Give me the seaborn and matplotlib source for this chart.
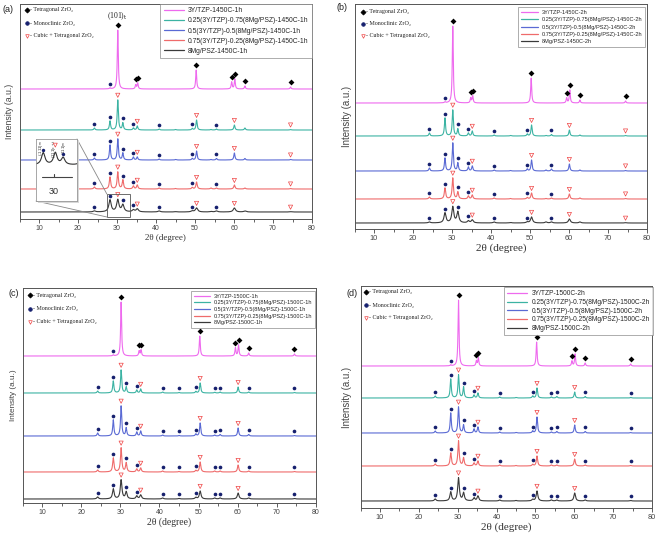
import numpy as np
import pandas as pd
import seaborn as sns
import matplotlib
matplotlib.use("Agg")
import matplotlib.pyplot as plt
from matplotlib.lines import Line2D
from matplotlib.patches import Rectangle, ConnectionPatch

# ---------------- data (peak tables) ----------------
TZP_POS = [28.2, 30.2, 34.8, 35.3, 50.3, 59.4, 60.2, 62.8, 74.5]
MIX_POS = [24.2, 28.2, 30.2, 31.5, 34.2, 35.2, 40.8, 45.0, 49.3, 50.4, 54.1, 55.5, 60.1, 62.8, 74.5]

# panel (a) 1450C-1h
A_TZP = [1, 59, 4, 6, 19, 7, 10, 3, 2]
A_025 = [2, 9, 30, 7, 2, 4, 1, 0.5, 1.5, 10, 0.5, 1, 5, 2, 0.5]
A_050 = [2, 15, 21, 7, 3, 3, 1, 0.5, 1.5, 9, 0.5, 1.5, 7, 1.5, 0.5]
A_075 = [2, 12, 17, 9, 3, 4, 1, 0.5, 1.5, 7, 1, 1, 4, 1, 0.5]
A_8MG = [1, 12, 12, 7, 2, 3, 1, 0.3, 1, 4, 0.5, 1, 4, 1, 0.3]
# panel (b) 1450C-2h
B_TZP = [1, 77, 5, 7, 25, 5, 13, 3, 2]
B_025 = [3, 18, 26, 7, 3, 5, 1, 0.5, 2, 11, 0.5, 1.5, 6, 1, 0.5]
B_050 = [3, 13, 28, 8, 4, 5, 1, 0.5, 2, 11, 1, 2, 7, 1, 0.5]
B_075 = [2, 11, 21, 7, 3, 4, 1, 0.5, 1.5, 6, 0.5, 1, 5, 1, 0.5]
B_8MG = [1, 10, 16, 11, 2, 3, 1, 0.5, 1, 6, 1, 1, 4, 1, 0.3]
# panel (c) 1500C-1h
C_TZP = [1, 54, 5, 6, 20, 8, 11, 3, 2]
C_025 = [2, 12, 23, 6, 3, 4, 1, 0.5, 1.5, 10, 0.7, 1, 6, 1, 0.5]
C_050 = [3, 16, 30, 8, 4, 5, 1, 0.5, 2, 13, 1, 1.5, 8, 1.5, 0.5]
C_075 = [2, 14, 24, 9, 3, 4, 1, 0.5, 1.5, 10, 1, 1, 7, 1, 0.5]
C_8MG = [2, 10, 19, 7, 3, 4, 1, 0.5, 1.5, 8, 1, 1, 6, 1, 0.5]
# panel (d) 1500C-2h
D_TZP = [1, 66, 5, 8, 24, 5, 12, 3, 2]
D_025 = [2, 19, 23, 11, 3, 5, 1, 0.5, 2, 10, 1, 1.5, 6, 1.5, 0.5]
D_050 = [2, 20, 26, 8, 4, 6, 1, 0.5, 2, 16, 1, 1.5, 8, 1.5, 0.5]
D_075 = [2, 13, 25, 8, 3, 5, 1, 0.5, 1.5, 10, 1, 1, 7, 1, 0.5]
D_8MG = [2, 9, 23, 8, 3, 5, 1, 0.5, 1.5, 10, 1, 1, 8, 1, 0.5]

# vertical offsets of the stacked patterns (a.u.)
A_OFF = [130, 89, 59, 30, 7]
B_OFF = [126, 93, 58, 30, 6]
C_OFF = [147, 110, 67, 31, 4]
D_OFF = [142, 110, 75, 42, 7]
A_YMAX, B_YMAX, C_YMAX, D_YMAX = 215, 225, 215, 222

COMPOSITIONS = ["3Y/TZP", "0.25(3Y/TZP)-0.75(8Mg/PSZ)", "0.5(3Y/TZP)-0.5(8Mg/PSZ)",
                "0.75(3Y/TZP)-0.25(8Mg/PSZ)", "8Mg/PSZ"]
CONDITIONS = ["1450C-1h", "1450C-2h", "1500C-1h", "1500C-2h"]

# phase markers
TZP_TET = [30.2, 34.8, 35.3, 50.3, 59.4, 60.2, 62.8, 74.5]
TZP_MONO = [28.2]
AB_MONO = [24.2, 28.2, 31.5, 34.2, 40.8, 49.3, 55.5]
AB_CT = [30.2, 35.2, 50.4, 60.1, 74.5]
C_MONO = [24.2, 28.2, 31.5, 34.2, 40.8, 45.0, 49.3, 54.1, 55.5, 62.8, 74.5]
D_MONO = [24.2, 28.2, 31.5, 34.2, 40.8, 49.3, 54.1, 55.5, 62.8, 74.5]
CD_CT = [30.2, 35.2, 50.4, 60.1]

COLORS = ["#ee6aee", "#3cb3a3", "#5a6ad4", "#ef6b6b", "#3a3a3a"]

# ---------------- style ----------------
sns.set_theme(style="ticks")
plt.rcParams["font.family"] = ["Liberation Sans", "DejaVu Sans"]
SERIF = ["Liberation Serif", "DejaVu Serif"]

W, H = 656, 540
fig = plt.figure(figsize=(W / 100, H / 100), dpi=100)
fig.patch.set_facecolor("white")

x = np.linspace(5, 80, 4000)


def profile(xx, pos, hts, w):
    xx = np.asarray(xx, dtype=float)[..., None]
    p = np.asarray(pos)
    h = np.asarray(hts)
    return (h / (1 + ((xx - p) / (w / 2)) ** 2)).sum(axis=-1)


def rect(l, r, t, b):
    return [l / W, 1 - b / H, (r - l) / W, (b - t) / H]


panels = [
    dict(tag="(a)", box=rect(19.5, 312, 4, 219), ymax=A_YMAX, off=A_OFF,
         hts=[A_TZP, A_025, A_050, A_075, A_8MG], mono=AB_MONO, ct=AB_CT,
         leg=(312, 4, 4.9, 0.45), phase=(27, 10, 13), tagpos=(8, 9), ylpad=4,
         xl=6.5, yl=6.3, tl=5.0, fw=[0.3, 0.35, 0.35, 0.4, 0.7]),
    dict(tag="(b)", box=rect(354.5, 647, 4, 229), ymax=B_YMAX, off=B_OFF,
         hts=[B_TZP, B_025, B_050, B_075, B_8MG], mono=AB_MONO, ct=AB_CT,
         leg=(645, 7, 4.1, 0.42), phase=(363, 12, 12), tagpos=(342, 7), ylpad=2,
         xl=8, yl=6.9, tl=5.3, fw=[0.3, 0.35, 0.35, 0.4, 0.6]),
    dict(tag="(c)", box=rect(22.5, 316, 288, 503), ymax=C_YMAX, off=C_OFF,
         hts=[C_TZP, C_025, C_050, C_075, C_8MG], mono=C_MONO, ct=CD_CT,
         leg=(315, 291, 4.0, 0.3), phase=(30, 295, 13.5), tagpos=(14, 294), ylpad=4,
         xl=7, yl=5.9, tl=5.0, fw=[0.3, 0.35, 0.35, 0.4, 0.5]),
    dict(tag="(d)", box=rect(360.6, 652, 286, 508), ymax=D_YMAX, off=D_OFF,
         hts=[D_TZP, D_025, D_050, D_075, D_8MG], mono=D_MONO, ct=CD_CT,
         leg=(653, 287, 4.8, 0.25), phase=(366, 292, 13), tagpos=(352, 294), ylpad=6,
         xl=8, yl=6.9, tl=5.3, fw=[0.3, 0.35, 0.35, 0.4, 0.5]),
]

axes = []
for pi, P in enumerate(panels):
    ax = fig.add_axes(P["box"])
    axes.append(ax)
    cond = CONDITIONS[pi]
    labels = [f"{c}-{cond}" for c in COMPOSITIONS]
    frames = []
    curves = []
    for si in range(5):
        pos = TZP_POS if si == 0 else MIX_POS
        y = P["off"][si] + profile(x, pos, P["hts"][si], P["fw"][si])
        curves.append((pos, P["hts"][si], P["fw"][si], P["off"][si]))
        frames.append(pd.DataFrame({"x": x, "y": y, "series": labels[si]}))
    df = pd.concat(frames, ignore_index=True)
    sns.lineplot(data=df, x="x", y="y", hue="series", hue_order=labels,
                 palette=COLORS, estimator=None, sort=False, legend=False,
                 linewidth=0.8, ax=ax)

    def yat(si, xs, add):
        pos, hts, w, off = curves[si]
        return off + profile(xs, pos, hts, w) + add

    # markers
    ax.scatter(TZP_TET, yat(0, TZP_TET, 5), marker="D", s=9, color="black", zorder=5, linewidths=0)
    ax.scatter(TZP_MONO, yat(0, TZP_MONO, 4), marker="o", s=7, color="#16206e", zorder=5, linewidths=0)
    for si in range(1, 5):
        ax.scatter(P["mono"], yat(si, P["mono"], 4), marker="o", s=7, color="#16206e",
                   zorder=5, linewidths=0)
        ax.scatter(P["ct"], yat(si, P["ct"], 4.5), marker="v", s=9, facecolors="none",
                   edgecolors="#ef4444", linewidths=0.5, zorder=5)

    ax.set_xlim(5, 80)
    ax.set_ylim(0, P["ymax"])
    ax.set_xticks(range(10, 81, 10))
    ax.set_xticks(range(5, 81, 5), minor=True)
    ax.set_yticks([])
    ax.tick_params(axis="x", which="major", length=3, width=0.6, direction="out",
                   labelsize=P["tl"], pad=1.5, colors="#444444")
    ax.tick_params(axis="x", which="minor", length=1.8, width=0.5, direction="out")
    for sp in ax.spines.values():
        sp.set_color("#555555")
        sp.set_linewidth(0.7)
    ax.set_xlabel("2θ (degree)", fontsize=P["xl"], family=SERIF, labelpad=1, color="#333333")
    ax.set_ylabel("Intensity (a.u.)", fontsize=P["yl"], labelpad=P["ylpad"], color="#444444")

    # line legend
    lx, ly, lfs, lsp = P["leg"]
    handles = [Line2D([], [], color=c, lw=0.9) for c in COLORS]
    leg = ax.legend(handles, labels, loc="upper right",
                    bbox_to_anchor=(lx / W, 1 - ly / H), bbox_transform=fig.transFigure,
                    fontsize=lfs, frameon=True, fancybox=False, labelspacing=lsp,
                    handlelength=3.0, handletextpad=0.6, borderpad=0.5, borderaxespad=0)
    leg.get_frame().set_edgecolor("#888888")
    leg.get_frame().set_linewidth(0.6)

    # phase key
    px0, py0, dy = P["phase"]
    kx = px0 / W
    items = [("D", "black", "black", "- Tetragonal ZrO₂"),
             ("o", "#16206e", "#16206e", "- Monoclinic ZrO₂"),
             ("v", "none", "#ef4444", "- Cubic + Tetragonal ZrO₂")]
    for k, (m, fc, ec, txt) in enumerate(items):
        ky = 1 - (py0 + k * dy) / H
        fig.add_artist(Line2D([kx], [ky], marker=m, markersize=2.6, markerfacecolor=fc,
                              markeredgecolor=ec, markeredgewidth=0.5, linestyle="none",
                              transform=fig.transFigure))
        fig.text(kx + 3 / W, ky, txt, fontsize=4.3, family=SERIF, va="center", ha="left",
                 color="#222222")

    fig.text(P["tagpos"][0] / W, 1 - P["tagpos"][1] / H, P["tag"], fontsize=6.5,
             ha="center", va="center", color="#222222")

# (101)t label in (a)
axes[0].text(30.2, 197, r"(101)$_\mathrm{t}$", fontsize=5.5, ha="center", va="bottom",
             family=SERIF, color="#222222")

# ---------------- inset in (a) ----------------
axa = axes[0]
zoom_box = Rectangle((27.4, 2), 5.9, 23, fill=False, edgecolor="#555555", lw=0.6, zorder=6)
axa.add_patch(zoom_box)
shadow = Rectangle((38 / W, 1 - 203 / H), 41 / W, 62 / H, transform=fig.transFigure,
                   facecolor="#d8d8d8", edgecolor="none", zorder=2)
fig.add_artist(shadow)
ins = fig.add_axes(rect(36, 77, 139, 201))
ins.set_facecolor("white")
ins.set_zorder(10)
xi = np.linspace(27, 33.8, 600)
pos8, h8, w8, off8 = MIX_POS, A_8MG, 0.7, A_OFF[4]
yi = off8 + profile(xi, pos8, h8, w8)
sns.lineplot(x=xi, y=yi, color="#333333", lw=0.8, ax=ins, estimator=None, sort=False)
ins.set_xlim(27, 33.8)
ins.set_ylim(-29, 33)
ins.scatter([28.2, 31.5], off8 + profile([28.2, 31.5], pos8, h8, w8) + 3, marker="o", s=6,
            color="#16206e", linewidths=0, zorder=5)
ins.scatter([30.2], off8 + profile([30.2], pos8, h8, w8) + 7, marker="v", s=8,
            facecolors="none", edgecolors="#ef4444", linewidths=0.5, zorder=5)
ins.plot([28.0, 33.0], [-5, -5], color="#444444", lw=0.8)
ins.plot([30, 30], [-5, -2], color="#444444", lw=0.8)
ins.text(30, -19, "30", fontsize=6.5, ha="center", va="center", color="#333333")
for xx, s in [(27.9, r"(-111)$_\mathrm{m}$"), (30.0, r"(111)$_\mathrm{c+t}$"), (31.7, r"(111)$_\mathrm{m}$")]:
    ins.text(xx, 32, s, fontsize=3.1, rotation=90, ha="center", va="top", color="#333333")
ins.set_xticks([])
ins.set_yticks([])
for sp in ins.spines.values():
    sp.set_color("#999999")
    sp.set_linewidth(0.6)
for (xa, ya), (xb, yb) in [((1, 1), (27.4, 25)), ((0, 0), (27.4, 2))]:
    con = ConnectionPatch(xyA=(xa, ya), coordsA=ins.transAxes, xyB=(xb, yb), coordsB=axa.transData,
                          color="#888888", lw=0.6)
    fig.add_artist(con)

fig.savefig("out.png", dpi=100, facecolor="white")
